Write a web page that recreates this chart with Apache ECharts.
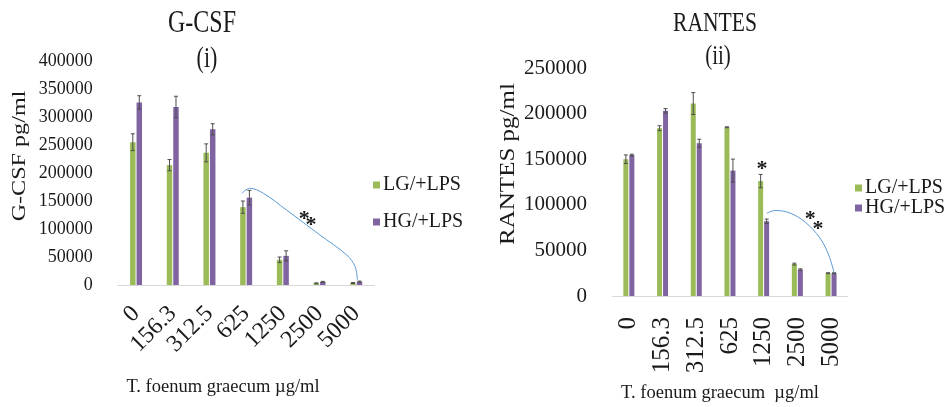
<!DOCTYPE html>
<html>
<head>
<meta charset="utf-8">
<script src="https://cdn.jsdelivr.net/npm/echarts@6/dist/echarts.min.js"></script>
<style>html,body{margin:0;padding:0;background:#fff}#c{width:946px;height:407px}</style>
</head>
<body>
<div id="c"></div>
<script>
// ---- data ----
const doses = ['0', '156.3', '312.5', '625', '1250', '2500', '5000'];
const seriesNames = ['LG/+LPS', 'HG/+LPS'];
// G-CSF (i)
const gcsfLG = [255000, 214000, 236000, 139000, 45000, 3000, 3500];
const gcsfLGErr = [15000, 10000, 16000, 11000, 5000, 800, 800];
const gcsfHG = [326000, 318000, 278000, 156000, 52000, 5500, 6000];
const gcsfHGErr = [12000, 19000, 10000, 13000, 9000, 1000, 1000];
const gcsfTicks = { min: 0, max: 400000, interval: 50000 };
// RANTES (ii)
const rantesLG = [150000, 184000, 211000, 185000, 126000, 35000, 25000];
const rantesLGErr = [4700, 2700, 12000, 500, 7300, 1000, 500];
const rantesHG = [154500, 203000, 167500, 137500, 82000, 29000, 25000];
const rantesHGErr = [1000, 2500, 4400, 12600, 2400, 800, 500];
const rantesTicks = { min: 0, max: 250000, interval: 50000 };
// annotation anchors (category position, value)
const gcsfStars = [[4.58, 123200], [4.77, 111600]];
const gcsfCurve = [[2.88,163750],[3.10,172700],[3.47,163750],[4.10,133900],[5.01,89300],[5.74,53600],[5.97,32700],[6.03,8900]];
const rantesStar = [[3.95, 142500]];
const rantesStars = [[5.38, 87700], [5.61, 76750]];
const rantesCurve = [[4.09,90700],[4.34,93750],[4.78,91000],[5.23,81100],[5.67,63600],[5.93,45000],[6.09,25500]];

const FONT = '"Liberation Serif", "Times New Roman", serif';
const GREEN = '#9BBB59', PURPLE = '#8064A2', TXT = '#1a1a1a';

const chart = echarts.init(document.getElementById('c'));

function errSeries(gi, vals, errs, sign, bw, gap) {
  return {
    type: 'custom', xAxisIndex: gi, yAxisIndex: gi, z: 5, silent: true,
    data: vals.map((v, i) => [i, v, errs[i]]),
    encode: { x: 0, y: 1 },
    renderItem: function (params, api) {
      const i = api.value(0), v = api.value(1), e = api.value(2);
      const c = api.coord([i, v]);
      const off = sign * bw * (1 + gap) / 2;
      const x = c[0] + off;
      const t = api.coord([i, v + e])[1];
      const b = api.coord([i, v - e])[1];
      const st = { stroke: '#4d4d4d', lineWidth: 1 };
      return { type: 'group', children: [
        { type: 'line', shape: { x1: x, y1: t, x2: x, y2: b }, style: st },
        { type: 'line', shape: { x1: x - 2, y1: t, x2: x + 2, y2: t }, style: st },
        { type: 'line', shape: { x1: x - 2, y1: b, x2: x + 2, y2: b }, style: st }
      ]};
    }
  };
}

const BW0 = 5.5, GAP0 = 0.18, BW1 = 5, GAP1 = 0.2;

function xAxis(gi, rot, fs, margin) {
  return {
    type: 'category', gridIndex: gi, data: doses,
    axisLine: { lineStyle: { color: '#d9d9d9', width: 1 } },
    axisTick: { show: false },
    axisLabel: { rotate: rot, fontSize: fs, fontFamily: FONT, color: TXT, margin: margin, interval: 0 }
  };
}
function yAxis(gi, ticks, fs) {
  return {
    type: 'value', gridIndex: gi, min: ticks.min, max: ticks.max, interval: ticks.interval,
    splitLine: { show: false }, axisLine: { show: false }, axisTick: { show: false },
    axisLabel: { fontSize: fs, fontFamily: FONT, color: TXT, margin: 25, formatter: v => String(v) }
  };
}

const option = {
  animation: false,
  backgroundColor: '#fff',
  textStyle: { fontFamily: FONT },
  grid: [
    { left: 117.7, top: 61, width: 7 * 36.7, height: 224 },
    { left: 612, top: 68, width: 7 * 33.7, height: 228 }
  ],
  xAxis: [xAxis(0, 45, 24, 25), xAxis(1, 90, 25, 21)],
  yAxis: [yAxis(0, gcsfTicks, 18), yAxis(1, rantesTicks, 21)],
  legend: [
    { orient: 'vertical', left: 368, top: 170, itemWidth: 7, itemHeight: 7, itemGap: 17, icon: 'rect',
      data: seriesNames, textStyle: { fontSize: 20, fontFamily: FONT, color: TXT, padding: [0,0,0,-2] } },
    { orient: 'vertical', left: 850, top: 173, itemWidth: 7, itemHeight: 7, itemGap: 0, icon: 'rect',
      data: seriesNames, textStyle: { fontSize: 20, fontFamily: FONT, color: TXT, padding: [0,0,0,-2] } }
  ],
  series: [
    { name: seriesNames[0], type: 'bar', xAxisIndex: 0, yAxisIndex: 0, data: gcsfLG, barWidth: BW0, barGap: (GAP0*100)+'%', itemStyle: { color: GREEN } },
    { name: seriesNames[1], type: 'bar', xAxisIndex: 0, yAxisIndex: 0, data: gcsfHG, barWidth: BW0, barGap: (GAP0*100)+'%', itemStyle: { color: PURPLE } },
    { name: seriesNames[0], type: 'bar', xAxisIndex: 1, yAxisIndex: 1, data: rantesLG, barWidth: BW1, barGap: (GAP1*100)+'%', itemStyle: { color: GREEN } },
    { name: seriesNames[1], type: 'bar', xAxisIndex: 1, yAxisIndex: 1, data: rantesHG, barWidth: BW1, barGap: (GAP1*100)+'%', itemStyle: { color: PURPLE } },
    errSeries(0, gcsfLG, gcsfLGErr, -1, BW0, GAP0),
    errSeries(0, gcsfHG, gcsfHGErr, 1, BW0, GAP0),
    errSeries(1, rantesLG, rantesLGErr, -1, BW1, GAP1),
    errSeries(1, rantesHG, rantesHGErr, 1, BW1, GAP1)
  ]
};
chart.setOption(option);

function mapper(gi, ymax) {
  const a = chart.convertToPixel({ gridIndex: gi }, [0, 0]);
  const b = chart.convertToPixel({ gridIndex: gi }, [1, ymax]);
  return (p) => [a[0] + p[0] * (b[0] - a[0]), a[1] + p[1] / ymax * (b[1] - a[1])];
}
const m0 = mapper(0, gcsfTicks.max), m1 = mapper(1, rantesTicks.max);

function txt(x, y, s, fs, opts) {
  opts = opts || {};
  return { type: 'text', x: x, y: y, rotation: opts.rot || 0, scaleX: opts.sx || 1, scaleY: opts.sy || 1, z: 10,
    style: { x: 0, y: 0, text: s, fontSize: fs, fontFamily: FONT, fill: TXT, fontWeight: opts.bold ? 'bold' : 'normal',
      align: 'center', verticalAlign: 'middle' } };
}
function star(p, fs) { return txt(p[0], p[1] + 3, '*', fs, { bold: true }); }
function curve(pts) {
  return { type: 'polyline', z: 9, shape: { points: pts, smooth: 0.35 }, style: { stroke: '#5b9bd5', lineWidth: 1, fill: null } };
}

const graphics = [
  txt(202, 24, 'G-CSF', 24, { sy: 1.3 }),
  txt(207, 59, '(i)', 22, { sy: 1.35 }),
  txt(715, 24, 'RANTES', 21.6, { sy: 1.3 }),
  txt(718, 57, '(ii)', 21, { sy: 1.35 }),
  txt(20, 156, 'G-CSF pg/ml', 18, { rot: Math.PI / 2, sx: 1.34 }),
  txt(509, 164, 'RANTES pg/ml', 20, { rot: Math.PI / 2, sx: 1.25 }),
  txt(223, 387, 'T. foenum graecum µg/ml', 18.5),
  txt(720, 393, 'T. foenum graecum  µg/ml', 18.5),
  curve(gcsfCurve.map(m0)),
  curve(rantesCurve.map(m1))
];
gcsfStars.map(m0).forEach(p => graphics.push(star(p, 22)));
rantesStar.map(m1).forEach(p => graphics.push(star(p, 22)));
rantesStars.map(m1).forEach(p => graphics.push(star(p, 22)));
chart.setOption({ graphic: graphics });
</script>
</body>
</html>
